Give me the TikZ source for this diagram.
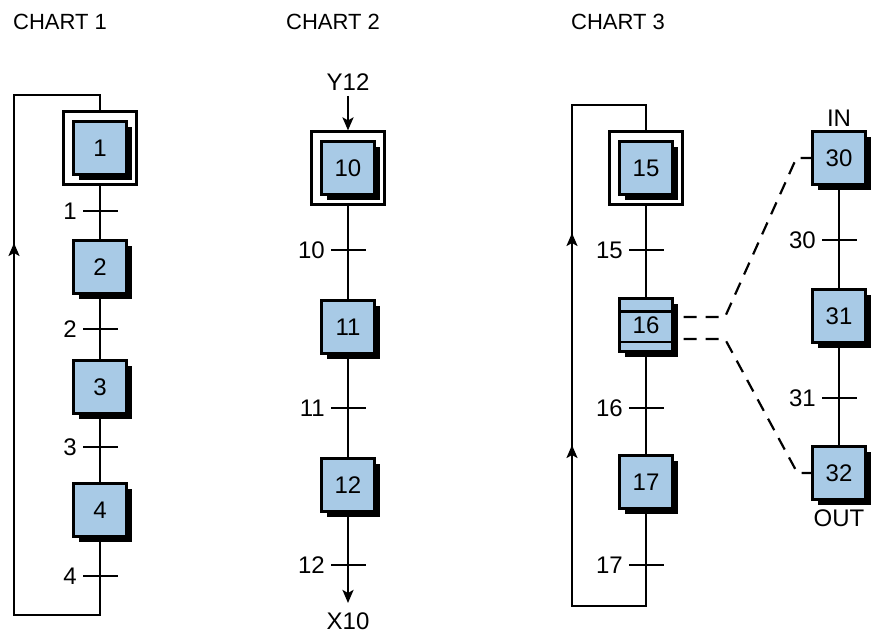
\documentclass[tikz,border=0pt]{standalone}
\usepackage{fontspec}
\setmainfont{Liberation Sans}
\usetikzlibrary{arrows.meta,positioning,shadows,decorations.markings}

\definecolor{stepblue}{RGB}{168,202,230}

\tikzset{
  wire/.style={line width=2.2pt},
  stepbox/.style={draw, line width=2.2pt, fill=stepblue, minimum size=53pt, inner sep=0pt,
    drop shadow={shadow xshift=5pt, shadow yshift=-5pt, fill=black, opacity=1}},
  initframe/.style={draw, line width=2.2pt, fill=white, minimum size=73pt, inner sep=0pt},
  trans/.style={fill=black, minimum width=35pt, minimum height=2.2pt, inner sep=0pt,
    label={[label distance=2pt]left:#1}},
  arrowhd/.style={-{Stealth[length=13pt,width=11pt,inset=3pt]}},
  looparrow/.style={postaction={decorate, decoration={markings,
    mark=at position #1 with {\arrow{Stealth[length=13pt,width=11pt,inset=3pt]}}}}},
  link/.style={line width=2.2pt, dash pattern=on 13pt off 9pt},
  title/.style={font=\fontsize{22}{26}\selectfont},
}

\begin{document}
\begin{tikzpicture}[x=1pt, y=-1pt, on grid,
  every node/.style={font=\fontsize{24}{28}\selectfont}]
  \useasboundingbox (0,0) rectangle (871,635);

  % Titles
  \node[title] (title1) at (60,22) {CHART 1};
  \node[title] (title2) at (333,22) {CHART 2};
  \node[title] (title3) at (618,22) {CHART 3};

  % Chart 1
  \node[initframe] (s1frame) at (100,148) {};
  \node[stepbox] (s1) at (s1frame) {1};
  \node[trans=1, below=63pt of s1] (t1) {};
  \node[stepbox, below=56pt of t1] (s2) {2};
  \node[trans=2, below=62pt of s2] (t2) {};
  \node[stepbox, below=58pt of t2] (s3) {3};
  \node[trans=3, below=60pt of s3] (t3) {};
  \node[stepbox, below=63pt of t3] (s4) {4};
  \node[trans=4, below=66pt of s4] (t4) {};
  \coordinate (c1bl) at (14,615);
  \coordinate (c1tl) at (14,95);

  \draw[wire] (s1frame) -- (t1) -- (s2) -- (t2) -- (s3) -- (t3) -- (s4) -- (t4);
  \draw[wire, looparrow=497pt] (t4.center) |- (c1bl) -- (c1tl) -| (s1frame.north);

  % Chart 2
  \node (y12) at (348,82) {Y12};
  \node[initframe] (s10frame) at (348,168) {};
  \node[stepbox] (s10) at (s10frame) {10};
  \node[trans=10, below=82pt of s10] (t10) {};
  \node[stepbox, below=77pt of t10] (s11) {11};
  \node[trans=11, below=81pt of s11] (t11) {};
  \node[stepbox, below=77pt of t11] (s12) {12};
  \node[trans=12, below=80pt of s12] (t12) {};
  \node[below=56pt of t12] (x10) {X10};

  \draw[wire, arrowhd, shorten <=2pt] (y12) -- (s10frame);
  \draw[wire] (s10frame) -- (t10) -- (s11) -- (t11) -- (s12) -- (t12);
  \draw[wire, arrowhd, shorten >=6pt] (t12) -- (x10);

  % Chart 3
  \node[initframe] (s15frame) at (646,168) {};
  \node[stepbox] (s15) at (s15frame) {15};
  \node[trans=15, below=82pt of s15] (t15) {};
  \node[stepbox, below=75pt of t15] (s16) {16};
  \node[trans=16, below=83pt of s16] (t16) {};
  \node[stepbox, below=74pt of t16] (s17) {17};
  \node[trans=17, below=83pt of s17] (t17) {};
  \coordinate (c3bl) at (572,606);
  \coordinate (c3tl) at (572,105);

  \draw[wire] ([yshift=-14pt]s16.north west) -- ([yshift=-14pt]s16.north east);
  \draw[wire] ([yshift=11pt]s16.south west) -- ([yshift=11pt]s16.south east);
  \draw[wire] (s15frame) -- (t15) -- (s16) -- (t16) -- (s17) -- (t17);
  \draw[wire, looparrow=276pt, looparrow=488pt] (t17.center) |- (c3bl) -- (c3tl) -| (s15frame.north);

  % Macro step 16 expanded
  \node[stepbox, label={[label distance=0pt]above:IN}] (s30) at (839,158) {30};
  \node[trans=30, below=82pt of s30] (t30) {};
  \node[stepbox, below=76pt of t30] (s31) {31};
  \node[trans=31, below=82pt of s31] (t31) {};
  \node[stepbox, below=75pt of t31, label={[label distance=6pt]below:OUT}] (s32) {32};
  \coordinate (k1) at (725,317);
  \coordinate (k2) at (725,339);

  \draw[wire] (s30) -- (t30) -- (s31) -- (t31) -- (s32);
  \draw[link] ([xshift=10pt,yshift=8pt]s16.east) -- (k1) -- ([xshift=-15pt]s30.west) -- (s30.west);
  \draw[link] ([xshift=10pt,yshift=-14pt]s16.east) -- (k2) -- ([xshift=-14pt]s32.west) -- (s32.west);
\end{tikzpicture}
\end{document}
